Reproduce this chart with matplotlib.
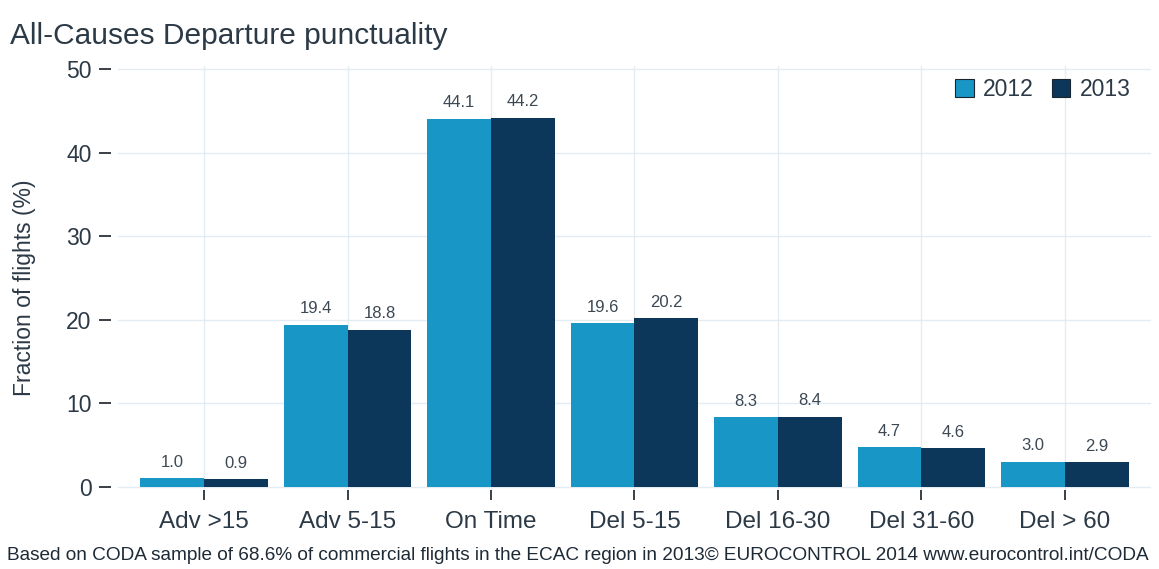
import matplotlib
matplotlib.use("Agg")
import matplotlib.pyplot as plt
import numpy as np
from matplotlib.patches import Patch

categories = ["Adv >15", "Adv 5-15", "On Time", "Del 5-15", "Del 16-30", "Del 31-60", "Del > 60"]
values_2012 = [1.0, 19.4, 44.1, 19.6, 8.3, 4.7, 3.0]
values_2013 = [0.9, 18.8, 44.2, 20.2, 8.4, 4.6, 2.9]
years = ["2012", "2013"]
y_ticks = [0, 10, 20, 30, 40, 50]

col_2012 = "#1897c6"
col_2013 = "#0c365a"
text_col = "#2c3a47"
grid_col = "#e2ecf2"

plt.rcParams["font.family"] = ["Liberation Sans", "DejaVu Sans"]

fig = plt.figure(figsize=(11.59, 5.69), dpi=100)
ax = fig.add_axes([0.1018, 0.1388, 0.8912, 0.7452])

x = np.arange(len(categories))
w = 0.445
b1 = ax.bar(x - w / 2, values_2012, width=w, color=col_2012, zorder=2)
b2 = ax.bar(x + w / 2, values_2013, width=w, color=col_2013, zorder=2)

for bars, vals in ((b1, values_2012), (b2, values_2013)):
    for rect, v in zip(bars, vals):
        ax.annotate(f"{v:.1f}", (rect.get_x() + rect.get_width() / 2, v),
                    xytext=(0, 6), textcoords="offset points",
                    ha="center", va="bottom", fontsize=12, color="#3c4854")

ax.set_xlim(-0.6, 6.6)
ax.set_ylim(-0.4, 50.4)
ax.set_xticks(x)
ax.set_xticklabels(categories)
ax.set_yticks(y_ticks)
ax.set_yticklabels([str(t) for t in y_ticks])

for s in ax.spines.values():
    s.set_visible(False)
ax.spines["left"].set_position(("outward", 5))

ax.grid(True, color=grid_col, linewidth=1.0, zorder=0)
ax.set_axisbelow(True)

ax.tick_params(axis="x", length=7.2, width=1.4, color="#3a3f45", pad=8,
               labelsize=17.5, labelcolor=text_col)
ax.tick_params(axis="y", length=8.6, width=1.4, color="#3a3f45", pad=5.5,
               labelsize=16.5, labelcolor=text_col)

ax.set_ylabel("Fraction of flights (%)", fontsize=16.5, color=text_col)
ax.yaxis.set_label_coords(-0.079, 0.478)

handles = [Patch(facecolor=col_2012, edgecolor="#1a2530", linewidth=0.8),
           Patch(facecolor=col_2013, edgecolor="#1a2530", linewidth=0.8)]
ax.legend(handles, years, loc="upper right", ncol=2, frameon=False,
          fontsize=16.5, labelcolor=text_col, handlelength=0.8, handleheight=0.8,
          handletextpad=0.4, columnspacing=0.8, bbox_to_anchor=(1.0, 1.02))

fig.text(0.009, 0.936, "All-Causes Departure punctuality", fontsize=21.5,
         color=text_col, ha="left", va="center")
fig.text(0.006, 0.023,
         "Based on CODA sample of 68.6% of commercial flights in the ECAC region in 2013\u00a9 EUROCONTROL 2014 www.eurocontrol.int/CODA",
         fontsize=13.7, color="#1e2a35", ha="left", va="center")

fig.savefig("out.png", dpi=100, facecolor="white")
